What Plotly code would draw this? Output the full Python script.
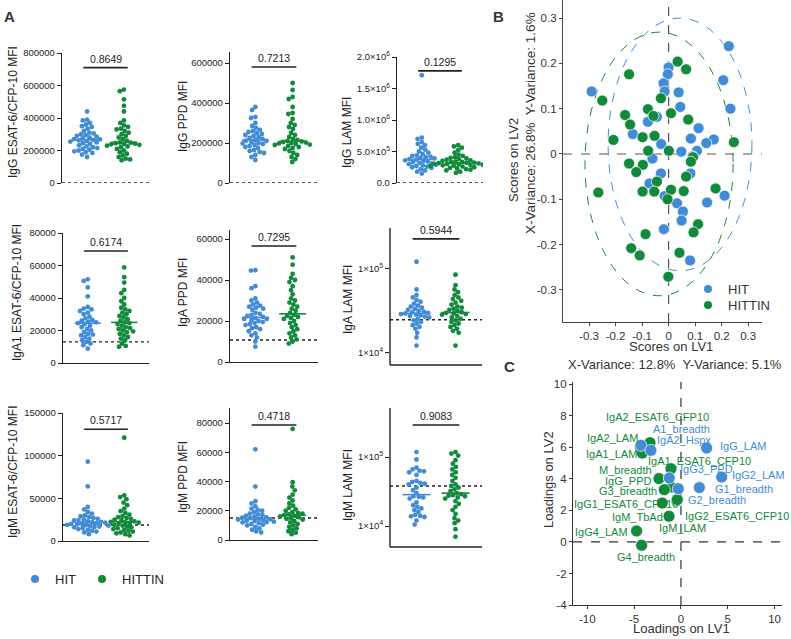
import numpy as np
import plotly.graph_objects as go

W, H = 791, 639
BLUE = "#428CD6"
GREEN = "#12893B"
FONT = "Liberation Sans, Arial, sans-serif"
DARK = "#222222"

# ---------------- DATA: panel A (MFI values) ----------------
IGG_ESAT_HIT = [440000, 390000, 385000, 370000, 360000, 350000, 345000, 335000, 320000, 310000, 305000, 300000,
                295000, 290000, 285000, 280000, 275000, 270000, 268000, 265000, 262000, 258000, 255000, 250000,
                245000, 240000, 232000, 225000, 220000, 215000, 210000, 205000, 200000, 195000, 190000, 185000,
                175000, 160000]
IGG_ESAT_HITTIN = [575000, 565000, 515000, 475000, 440000, 385000, 370000, 355000, 345000, 335000, 330000, 320000,
                   310000, 300000, 290000, 280000, 270000, 260000, 250000, 248000, 245000, 242000, 240000, 238000,
                   235000, 230000, 225000, 220000, 210000, 200000, 190000, 180000, 170000, 160000, 150000, 145000,
                   140000]
IGG_PPD_HIT = [380000, 365000, 330000, 325000, 300000, 285000, 275000, 265000, 260000, 255000, 250000, 245000,
               240000, 235000, 230000, 225000, 220000, 215000, 212000, 210000, 205000, 200000, 198000, 195000,
               190000, 185000, 180000, 175000, 165000, 160000, 155000, 150000, 140000, 130000, 115000]
IGG_PPD_HITTIN = [500000, 465000, 430000, 420000, 380000, 350000, 345000, 320000, 300000, 290000, 280000, 270000,
                  250000, 240000, 230000, 220000, 215000, 210000, 208000, 205000, 202000, 200000, 198000, 195000,
                  192000, 190000, 185000, 180000, 175000, 170000, 160000, 150000, 140000, 130000, 120000, 105000]
IGG_LAM_HIT = [1710000, 720000, 700000, 650000, 620000, 600000, 560000, 530000, 500000, 480000, 460000, 440000,
               430000, 420000, 410000, 400000, 390000, 380000, 370000, 360000, 350000, 340000, 330000, 320000,
               310000, 300000, 290000, 280000, 270000, 260000, 250000, 240000, 220000, 200000, 180000, 150000]
IGG_LAM_HITTIN = [600000, 580000, 560000, 520000, 480000, 450000, 430000, 410000, 400000, 390000, 380000, 370000,
                  360000, 350000, 340000, 335000, 330000, 325000, 320000, 315000, 310000, 305000, 300000, 295000,
                  290000, 285000, 280000, 275000, 270000, 260000, 250000, 240000, 230000, 220000, 210000, 200000,
                  180000, 160000]
IGA1_ESAT_HIT = [51500, 50500, 46500, 41000, 34500, 33500, 33000, 32000, 31000, 30000, 28500, 27500, 26500, 26000,
                 25500, 25000, 24500, 24000, 23000, 22000, 21000, 20000, 19000, 18000, 17500, 17000, 16000, 15000,
                 14000, 13000, 12000, 11000, 8800]
IGA1_ESAT_HITTIN = [58800, 52800, 49500, 45000, 43000, 40000, 38000, 36000, 34000, 33000, 32000, 31000, 30000,
                    29000, 28000, 27000, 26000, 25000, 24500, 24000, 23000, 22000, 21500, 21000, 20000, 19500,
                    19000, 18000, 17000, 16000, 15000, 14000, 12000, 10500, 10000]
IGA_PPD_HIT = [44800, 44600, 37000, 36000, 31000, 30000, 29000, 28000, 27500, 27000, 26500, 26000, 25500, 24000,
               23500, 23000, 22500, 22000, 21500, 21000, 21000, 20500, 20000, 19500, 19000, 18500, 18000, 17000,
               16500, 16000, 15000, 14000, 13000, 12000, 10000, 7500]
IGA_PPD_HITTIN = [51000, 47500, 43000, 41000, 40000, 39000, 37000, 35000, 33000, 31000, 30000, 29000, 28000, 27000,
                  26000, 25000, 24000, 23000, 22500, 22000, 21500, 21000, 20000, 19000, 18000, 17000, 16000, 15000,
                  14000, 13000, 12000, 11000, 10000, 9000]
IGA_LAM_HIT = [120000, 56000, 48000, 45000, 42000, 40000, 38000, 36000, 35000, 34000, 33000, 32000, 31000, 30500,
               30000, 29500, 29000, 28500, 28000, 27500, 27000, 26500, 26000, 25000, 24000, 23000, 22000, 21000,
               20000, 19000, 17000, 15000, 12000]
IGA_LAM_HITTIN = [84000, 63000, 56000, 52000, 48000, 45000, 43000, 41000, 39000, 37000, 35000, 34000, 33000, 32000,
                  31000, 30000, 29500, 29000, 28500, 28000, 27000, 26000, 25000, 24000, 23000, 22000, 21000, 20000,
                  19000, 18000, 17000, 12000]
IGM_ESAT_HIT = [93000, 64000, 40000, 37000, 34000, 32000, 30000, 29000, 28000, 27000, 26000, 25000, 24500, 24000,
                23000, 22500, 22000, 21500, 21000, 20500, 20000, 19500, 19000, 18500, 18000, 17500, 17000, 16500,
                16000, 15000, 14000, 13000, 12000, 11000, 10000, 8000]
IGM_ESAT_HITTIN = [121000, 53500, 51500, 49000, 45000, 42000, 38000, 35000, 33000, 31000, 29000, 28000, 27000,
                   26000, 25000, 24000, 23000, 22500, 22000, 21500, 21000, 20000, 19000, 18000, 17000, 16000, 15000,
                   14000, 13000, 12000, 11000, 10000, 9000, 8000, 6500]
IGM_PPD_HIT = [62000, 36500, 26500, 25000, 23000, 21500, 20500, 20000, 19000, 18000, 17500, 17000, 16500, 16000,
               15500, 15200, 15000, 14500, 14200, 14000, 13500, 13200, 13000, 12500, 12200, 12000, 11500, 11000,
               10500, 10000, 9000, 8000, 7000, 6000, 5200]
IGM_PPD_HITTIN = [76000, 39500, 36500, 34000, 31000, 29000, 27000, 25000, 23500, 22000, 21000, 20000, 19000, 18500,
                  18000, 17500, 17000, 16500, 16000, 15500, 15000, 14500, 14000, 13000, 12000, 11000, 10000, 9000,
                  8000, 7000, 6000, 5000, 4000]
IGM_LAM_HIT = [118000, 92000, 70000, 66000, 63000, 62000, 60000, 55000, 45000, 43500, 42000, 41000, 40000, 36000,
               33000, 30000, 27000, 26500, 26000, 25000, 22000, 20000, 19000, 18000, 17000, 16000, 14500, 14000,
               13800, 13500, 12000, 10500]
IGM_LAM_HITTIN = [118000, 112000, 105000, 90000, 80000, 72000, 66000, 60000, 55000, 50000, 45000, 40000, 38000,
                  36000, 34000, 32000, 30000, 29000, 28000, 27500, 27000, 26000, 25000, 23000, 21000, 19000, 17000,
                  15000, 13000, 12000, 11000, 9000, 7000]

Y_TITLES = ["IgG ESAT-6/CFP-10 MFI", "IgG PPD MFI", "IgG LAM MFI",
            "IgA1 ESAT-6/CFP-10 MFI", "IgA PPD MFI", "IgA LAM MFI",
            "IgM ESAT-6/CFP-10 MFI", "IgM PPD MFI", "IgM LAM MFI"]
P_VALUES = ["0.8649", "0.7213", "0.1295", "0.6174", "0.7295", "0.5944", "0.5717", "0.4718", "0.9083"]
P_BAR_LEVEL = [710000, 580000, 1780000, 68900, 56600, 225000, 131000, 78600, 291000]
CUTOFFS = [0, 0, 0, 13000, 10700, 24400, 18750, 15000, 38000]
TICKS_A = [
    ([0, 200000, 400000, 600000, 800000], ["0", "200000", "400000", "600000", "800000"]),
    ([0, 200000, 400000, 600000], ["0", "200000", "400000", "600000"]),
    ([0, 500000, 1000000, 1500000, 2000000],
     ["0.0", "5.0×10<sup>5</sup>", "1.0×10<sup>6</sup>", "1.5×10<sup>6</sup>", "2.0×10<sup>6</sup>"]),
    ([0, 20000, 40000, 60000, 80000], ["0", "20000", "40000", "60000", "80000"]),
    ([0, 20000, 40000, 60000], ["0", "20000", "40000", "60000"]),
    ([10000, 100000], ["1×10<sup>4</sup>", "1×10<sup>5</sup>"]),
    ([0, 50000, 100000, 150000], ["0", "50000", "100000", "150000"]),
    ([0, 20000, 40000, 60000, 80000], ["0", "20000", "40000", "60000", "80000"]),
    ([10000, 100000], ["1×10<sup>4</sup>", "1×10<sup>5</sup>"]),
]
GROUPS = ["HIT", "HITTIN"]

# ---------------- DATA: panel B (scores) ----------------
B_HIT_LV1 = [-0.29, 0.227, 0.206, 0.233, 0.0, -0.003, -0.019, -0.015, 0.038, 0.044, -0.044, -0.078, -0.135, 0.113,
             0.084, 0.170, 0.142, -0.028, 0.048, 0.107, -0.061, 0.090, -0.029, 0.082, -0.072, -0.015, 0.145, 0.211,
             0.032, 0.054, 0.049, -0.018, 0.081]
B_HIT_LV2 = [0.138, 0.238, 0.163, 0.100, 0.191, 0.176, 0.156, 0.138, 0.136, 0.104, 0.082, 0.071, 0.044, 0.057,
             0.034, 0.032, 0.024, 0.022, 0.005, 0.007, -0.010, -0.005, -0.043, -0.043, -0.065, -0.093, -0.107, -0.092,
             -0.109, -0.127, -0.147, -0.166, -0.235]
B_HITTIN_LV1 = [-0.149, -0.250, 0.034, 0.066, -0.029, -0.078, -0.057, -0.164, -0.145, 0.009, 0.074, -0.208, -0.098,
                -0.053, 0.246, -0.077, 0.001, -0.149, -0.097, -0.122, 0.092, 0.084, 0.066, -0.044, -0.265, -0.098,
                -0.054, 0.009, 0.057, 0.177, -0.004, 0.111, 0.094, -0.087, -0.141, -0.109, 0.041, -0.001]
B_HITTIN_LV2 = [0.176, 0.118, 0.204, 0.187, 0.123, 0.099, 0.084, 0.086, 0.065, 0.090, 0.076, 0.031, 0.037, 0.040,
                0.026, 0.007, 0.007, -0.021, -0.024, -0.040, -0.007, -0.017, -0.050, -0.061, -0.085, -0.083, -0.083,
                -0.079, -0.082, -0.076, -0.100, -0.155, -0.173, -0.177, -0.208, -0.224, -0.218, -0.271]
# confidence ellipses: centre x, centre y, half-width, half-height
B_ELLIPSE_HIT = (0.043, 0.021, 0.271, 0.279)
B_ELLIPSE_HITTIN = (-0.036, -0.022, 0.279, 0.291)
B_TICKS = [-0.3, -0.2, -0.1, 0, 0.1, 0.2, 0.3]
B_TICKTEXT = ["-0.3", "-0.2", "-0.1", "0", "0.1", "0.2", "0.3"]

# ---------------- DATA: panel C (loadings) ----------------
C_HIT_NAMES = ["A1_breadth", "IgA2_Hspx", "IgG_LAM", "IgG2_LAM", "G1_breadth", "G2_breadth", "IgG3_PPD"]
C_HIT_LV1 = [-4.27, -3.21, 2.74, 4.35, 1.96, -0.29, -1.25]
C_HIT_LV2 = [6.13, 5.81, 5.96, 4.12, 3.45, 3.38, 4.06]
C_HITTIN_NAMES = ["IgA2_ESAT6_CFP10", "IgA2_LAM", "IgA1_LAM", "IgA1_ESAT6_CFP10", "M_breadth", "IgG_PPD",
                  "G3_breadth", "IgG1_ESAT6_CFP10", "IgM_TbAd", "IgG4_LAM", "IgM_LAM", "IgG2_ESAT6_CFP10",
                  "G4_breadth"]
C_HITTIN_LV1 = [-3.31, -4.35, -4.13, -1.07, -1.07, -2.35, -1.78, -2.0, -1.28, -4.74, -0.45, -0.39, -4.20]
C_HITTIN_LV2 = [6.30, 6.05, 5.64, 4.65, 3.49, 4.02, 3.32, 2.47, 1.63, 0.70, 2.62, 2.69, -0.21]
C_XTICKS = [-10, -5, 0, 5, 10]
C_XTICKTEXT = ["-10", "-5", "0", "5", "10"]
C_YTICKS = [-4, -2, 0, 2, 4, 6, 8, 10]
C_YTICKTEXT = ["-4", "-2", "0", "2", "4", "6", "8", "10"]

# ---------------- LAYOUT (pixel boxes) ----------------
# left, right, top, bottom, y-range, log
A_BOXES = [
    (62, 149, 53, 183, [0, 800000], False),
    (230, 318, 52, 183, [0, 655000], False),
    (397, 483, 57, 183, [0, 2000000], False),
    (63, 149, 233, 363, [0, 80000], False),
    (230, 318, 230, 362, [0, 64400], False),
    (390, 482, 228, 365, [3.847, 5.482], True),
    (63, 149, 413, 541, [0, 150000], False),
    (230, 318, 408, 540, [0, 90260], False),
    (390, 482, 408, 547, [3.696, 5.71], True),
]
A_TITLE_POS = [(13, 112), (183, 117), (347, 133), (17, 293), (183, 293), (348, 300), (13, 472), (183, 477), (348, 485)]
XR = [-0.68, 1.68]
# label offsets (px) for panel C: dx, dy (dy positive = up)
C_HIT_SHIFT = [(41, 16), (33, 10), (36, 2), (37, 2), (45, -1), (39, -11), (37, 9)]
C_HITTIN_SHIFT = [(8, 26), (-28, 9), (-31, -1), (29, 8), (-45, 17), (-30, -2), (-36, -1), (-36, -1), (-31, -1),
                  (-35, -1), (6, -27), (60, -16), (4, -12)]
# legend box corners (px): name -> (x, y-top)
LEGEND_POS = {"legend": (15, 564), "legend2": (82, 564), "legend3": (688, 274), "legend4": (688, 290)}

A_DATA = [(IGG_ESAT_HIT, IGG_ESAT_HITTIN), (IGG_PPD_HIT, IGG_PPD_HITTIN), (IGG_LAM_HIT, IGG_LAM_HITTIN),
          (IGA1_ESAT_HIT, IGA1_ESAT_HITTIN), (IGA_PPD_HIT, IGA_PPD_HITTIN), (IGA_LAM_HIT, IGA_LAM_HITTIN),
          (IGM_ESAT_HIT, IGM_ESAT_HITTIN), (IGM_PPD_HIT, IGM_PPD_HITTIN), (IGM_LAM_HIT, IGM_LAM_HITTIN)]


def dx(l, r):
    return [l / W, r / W]


def dy(t, b):
    return [1 - b / H, 1 - t / H]


def paper(px, py):
    return px / W, 1 - py / H


def beeswarm(ypx, d):
    ypx = np.asarray(ypx, dtype=float)
    xs = np.zeros(len(ypx))
    placed = []
    for i in np.argsort(-ypx, kind="stable"):
        y = ypx[i]
        forb = []
        for xp, yp in placed:
            ddy = abs(y - yp)
            if ddy < d:
                w = np.sqrt(d * d - ddy * ddy)
                forb.append((xp - w, xp + w))
        cands = [0.0] + [a for a, b in forb] + [b for a, b in forb]
        cands.sort(key=lambda c: (abs(c), c))
        for c in cands:
            if all(not (a + 1e-6 < c < b - 1e-6) for a, b in forb):
                xs[i] = c
                break
        placed.append((xs[i], y))
    return xs


fig = go.Figure()
layout = dict(template="none", width=W, height=H, margin=dict(l=0, r=0, t=0, b=0, pad=0, autoexpand=False),
              paper_bgcolor="white", plot_bgcolor="rgba(0,0,0,0)", font=dict(family=FONT, color=DARK),
              showlegend=True)
shapes, annotations = [], []

for k, ((l, r, t, b, yr, lg), (hit, hittin)) in enumerate(zip(A_BOXES, A_DATA)):
    n = k + 1
    sfx = "" if n == 1 else str(n)
    xa, ya = f"x{sfx}", f"y{sfx}"
    xpx_per_unit = (r - l) / (XR[1] - XR[0])
    ypx_per_unit = (b - t) / (yr[1] - yr[0])
    cy = CUTOFFS[k]
    fig.add_trace(go.Scatter(x=XR, y=[cy, cy], mode="lines", xaxis=xa, yaxis=ya, showlegend=False,
                             line=dict(color=DARK, width=1.4, dash="dot"), hoverinfo="skip", cliponaxis=False))
    for gi, (vals, col) in enumerate(zip((hit, hittin), (BLUE, GREEN))):
        v = np.array(vals, dtype=float)
        yv = np.log10(v) if lg else v
        off = beeswarm(yv * ypx_per_unit, 4.4) / xpx_per_unit
        fig.add_trace(go.Scatter(x=gi + off, y=v, mode="markers", xaxis=xa, yaxis=ya, showlegend=False,
                                 marker=dict(size=4.8, color=col, line=dict(width=0)), hoverinfo="skip"))
        med = float(np.median(v))
        fig.add_trace(go.Scatter(x=[gi - 0.36, gi + 0.36], y=[med, med], mode="lines", xaxis=xa, yaxis=ya,
                                 showlegend=False, line=dict(color=col, width=1.6), hoverinfo="skip"))
    pb = P_BAR_LEVEL[k]
    fig.add_trace(go.Scatter(x=[-0.1, 1.1], y=[pb, pb], mode="lines", xaxis=xa, yaxis=ya, showlegend=False,
                             line=dict(color=DARK, width=1.6), hoverinfo="skip"))
    annotations.append(dict(x=0.5, y=float(np.log10(pb)) if lg else pb, xref=xa, yref=ya, text=P_VALUES[k],
                            showarrow=False, xanchor="center", yanchor="bottom", yshift=1,
                            font=dict(size=10.5, color=DARK)))
    tv, tt = TICKS_A[k]
    axis_common = dict(showgrid=False, zeroline=False, linecolor=DARK, linewidth=1.4, automargin=False,
                       mirror=False)
    layout[f"xaxis{sfx}"] = dict(domain=dx(l, r), range=XR, anchor=ya, showticklabels=False, ticks="",
                                 showline=(t > 100 and not lg), **axis_common)
    layout[f"yaxis{sfx}"] = dict(domain=dy(t, b), range=yr, anchor=xa, type="log" if lg else "linear",
                                 tickvals=tv, ticktext=tt, ticks="outside", ticklen=4, tickwidth=1.2,
                                 tickcolor=DARK, tickfont=dict(size=9.5, color=DARK), showline=not lg,
                                 **axis_common)
    if lg:
        # left and bottom frame lines drawn in the subplot's own domain coordinates
        shapes.append(dict(type="line", xref=f"{xa} domain", yref=f"{ya} domain", x0=0, x1=0, y0=0, y1=1,
                           line=dict(color=DARK, width=1.4)))
        shapes.append(dict(type="line", xref=f"{xa} domain", yref=f"{ya} domain", x0=0, x1=1, y0=0, y1=0,
                           line=dict(color=DARK, width=1.4)))
    tx, ty = paper(*A_TITLE_POS[k])
    annotations.append(dict(x=tx, y=ty, xref="paper", yref="paper", text=Y_TITLES[k], textangle=-90,
                            xanchor="center", yanchor="middle", showarrow=False, font=dict(size=12, color=DARK)))

# ---------------- panel B ----------------
fig.add_trace(go.Scatter(x=B_HIT_LV1, y=B_HIT_LV2, mode="markers", xaxis="x10", yaxis="y10", showlegend=False,
                         marker=dict(size=11, color=BLUE, line=dict(width=1, color="rgba(255,255,255,0.7)"))))
fig.add_trace(go.Scatter(x=B_HITTIN_LV1, y=B_HITTIN_LV2, mode="markers", xaxis="x10", yaxis="y10",
                         showlegend=False,
                         marker=dict(size=11, color=GREEN, line=dict(width=1, color="rgba(255,255,255,0.7)"))))
for (cx, cy_, rx, ry), col in ((B_ELLIPSE_HIT, BLUE), (B_ELLIPSE_HITTIN, GREEN)):
    shapes.append(dict(type="circle", xref="x10", yref="y10", x0=cx - rx, x1=cx + rx, y0=cy_ - ry, y1=cy_ + ry,
                       line=dict(color=col, width=1, dash="dash"), layer="below"))
shapes.append(dict(type="line", xref="x10", yref="y10 domain", x0=0, x1=0, y0=0, y1=1,
                   line=dict(color="#555", width=1.2, dash="dash"), layer="below"))
shapes.append(dict(type="line", xref="x10 domain", yref="y10", x0=0, x1=1, y0=0, y1=0,
                   line=dict(color="#555", width=1.2, dash="dash"), layer="below"))
axis_bc = dict(showgrid=False, zeroline=False, showline=True, linewidth=1.2, ticks="outside", ticklen=3,
               automargin=False, mirror=False, tickfont=dict(size=11.5, color="#333"))
layout["xaxis10"] = dict(domain=dx(563, 762), range=[-0.398, 0.352], anchor="y10", tickvals=B_TICKS,
                         ticktext=B_TICKTEXT, linecolor="#444", tickcolor="#444", **axis_bc)
layout["yaxis10"] = dict(domain=dy(0, 322), range=[-0.371, 0.34], anchor="x10", tickvals=B_TICKS,
                         ticktext=B_TICKTEXT, linecolor="#444", tickcolor="#444", **axis_bc)

# ---------------- panel C ----------------
fig.add_trace(go.Scatter(x=C_HITTIN_LV1, y=C_HITTIN_LV2, mode="markers", xaxis="x11", yaxis="y11",
                         showlegend=False,
                         marker=dict(size=12, color=GREEN, line=dict(width=1, color="rgba(255,255,255,0.7)"))))
fig.add_trace(go.Scatter(x=C_HIT_LV1, y=C_HIT_LV2, mode="markers", xaxis="x11", yaxis="y11", showlegend=False,
                         marker=dict(size=12, color=BLUE, line=dict(width=1, color="rgba(255,255,255,0.7)"))))
for names, xs, ys, shifts, col in ((C_HITTIN_NAMES, C_HITTIN_LV1, C_HITTIN_LV2, C_HITTIN_SHIFT, GREEN),
                                   (C_HIT_NAMES, C_HIT_LV1, C_HIT_LV2, C_HIT_SHIFT, BLUE)):
    for nm, x, y, (sx, sy) in zip(names, xs, ys, shifts):
        annotations.append(dict(x=x, y=y, xref="x11", yref="y11", text=nm, showarrow=False, xshift=sx, yshift=sy,
                                xanchor="center", yanchor="middle", font=dict(size=11, color=col)))
shapes.append(dict(type="line", xref="x11", yref="y11 domain", x0=0, x1=0, y0=0, y1=1,
                   line=dict(color="#333", width=1.2, dash="dash"), layer="below"))
shapes.append(dict(type="line", xref="x11 domain", yref="y11", x0=0, x1=1, y0=0, y1=0,
                   line=dict(color="#333", width=1.2, dash="dash"), layer="below"))
layout["xaxis11"] = dict(domain=dx(573, 782), range=[-11.53, 10.79], anchor="y11", tickvals=C_XTICKS,
                         ticktext=C_XTICKTEXT, linecolor="#333", tickcolor="#333", **axis_bc)
layout["yaxis11"] = dict(domain=dy(382, 605), range=[-4, 10.15], anchor="x11", tickvals=C_YTICKS,
                         ticktext=C_YTICKTEXT, linecolor="#333", tickcolor="#333", **axis_bc)

# ---------------- legends (one item per legend box) ----------------
for lgname, g, col in (("legend", GROUPS[0], BLUE), ("legend2", GROUPS[1], GREEN),
                       ("legend3", GROUPS[0], BLUE), ("legend4", GROUPS[1], GREEN)):
    fig.add_trace(go.Scatter(x=[None], y=[None], mode="markers", name=g, xaxis="x10", yaxis="y10",
                             legend=lgname, marker=dict(size=8, color=col)))
    lx, ly = paper(*LEGEND_POS[lgname])
    layout[lgname] = dict(x=lx, y=ly, xanchor="left", yanchor="top", orientation="v", bgcolor="rgba(0,0,0,0)",
                          borderwidth=0,
                          font=dict(size=13, color=DARK if lgname in ("legend", "legend2") else "#333"),
                          itemwidth=30)

# ---------------- text annotations ----------------
TEXTS = [
    ("A", 9, 16, 0, 15, True), ("B", 498, 16, 0, 15, True), ("C", 510, 366, 0, 15, True),
    ("Scores on LV1", 671, 347, 0, 13, False), ("X-Variance: 12.8%  Y-Variance: 5.1%", 675, 364, 0, 13, False),
    ("Scores on LV2", 513, 160, -90, 13, False), ("X-Variance: 26.8%  Y-Variance: 1.6%", 530, 123, -90, 13.5, False),
    ("Loadings on LV1", 681, 628, 0, 13, False), ("Loadings on LV2", 548, 480, -90, 13, False),
]
for txt, px, py, ang, fs, bold in TEXTS:
    x, y = paper(px, py)
    annotations.append(dict(x=x, y=y, xref="paper", yref="paper", text=f"<b>{txt}</b>" if bold else txt,
                            textangle=ang, xanchor="center", yanchor="middle", showarrow=False,
                            font=dict(size=fs, color="#333")))

layout["shapes"] = shapes
layout["annotations"] = annotations
fig.update_layout(**layout)
fig.write_html("out.html", config={"displayModeBar": False},
               post_script="document.body.style.margin='0px';document.body.style.overflow='hidden';")
